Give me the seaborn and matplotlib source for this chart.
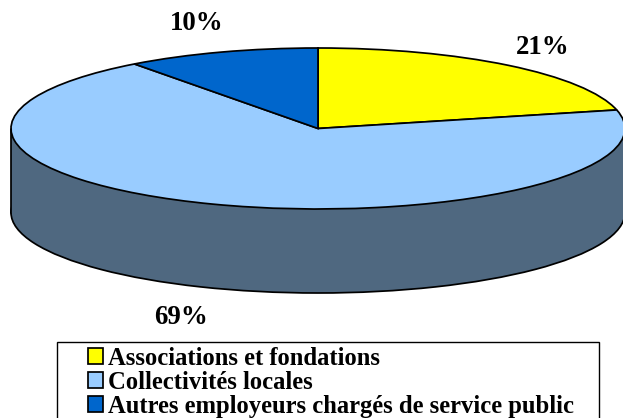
"""
Flattened 3D style pie of employer shares, with a dark side wall under the top face.
"""
import matplotlib
matplotlib.use("Agg")
import matplotlib.pyplot as plt
import seaborn as sns
from matplotlib.patches import Rectangle

categories = ["Associations et fondations", "Collectivités locales",
              "Autres employeurs chargés de service public"]
shares = [21.3, 68.5, 10.2]
share_labels = ["21%", "69%", "10%"]
colors = ["#FFFF00", "#99CCFF", "#0066CC"]
side_color = "#4F6880"

W, H = 623, 418
CX, CY, RX, RY = 318, 128.5, 307, 80.5
DEPTH = 84 / RY


# pixel position in the reference -> data units of the pie
def px(x, y):
    return (x - CX) / RX, (CY - y) / RY


sns.set_theme(style="white")
plt.rcParams["font.family"] = ["Liberation Serif", "DejaVu Serif"]

fig = plt.figure(figsize=(W / 100, H / 100), dpi=100)
ax = fig.add_axes([0, 0, 1, 1])

edge = {"edgecolor": "black", "linewidth": 1.25}

# side wall: same ellipse lower down, then a block joining both ellipses
ax.pie([1], colors=[side_color], center=(0, -DEPTH), wedgeprops=edge)
ax.add_patch(Rectangle((-1, -DEPTH), 2, DEPTH, facecolor=side_color,
                       edgecolor="none", zorder=1))
ax.plot([-1, -1], [0, -DEPTH], color="black", lw=1.25, zorder=1.5)
ax.plot([1, 1], [0, -DEPTH], color="black", lw=1.25, zorder=1.5)

# top face
wedges, _ = ax.pie(shares, colors=colors, startangle=90, counterclock=False,
                   wedgeprops=edge)
for w in wedges:
    w.set_zorder(2)

ax.set_aspect("auto")
ax.set_xlim(px(0, 0)[0], px(W, 0)[0])
ax.set_ylim(px(0, H)[1], px(0, 0)[1])

label_pos = [(543, 47), (181, 317), (197, 24)]
for lab, pos in zip(share_labels, label_pos):
    x, y = px(*pos)
    ax.text(x, y, lab, ha="center", va="center",
            fontsize=19.4, fontweight="bold", color="black")

# legend box runs off the bottom of the picture, so it is drawn apart from the legend
ax.add_patch(Rectangle((57 / W, -0.02), (599 - 57) / W, 0.02 + 1 - 342 / H,
                       transform=ax.transAxes, facecolor="white",
                       edgecolor="black", linewidth=1.0, zorder=4,
                       clip_on=False))

leg = ax.legend(wedges, categories, loc="upper left",
                bbox_to_anchor=(88 / W, 1 - 347 / H), borderaxespad=0,
                prop={"size": 17.7, "weight": "bold"}, frameon=False,
                handlelength=0.61, handleheight=0.61, handletextpad=0.2,
                labelspacing=0.04, borderpad=0, labelcolor="black")
leg.set_zorder(5)

fig.savefig("out.png", dpi=100)
plt.close(fig)
